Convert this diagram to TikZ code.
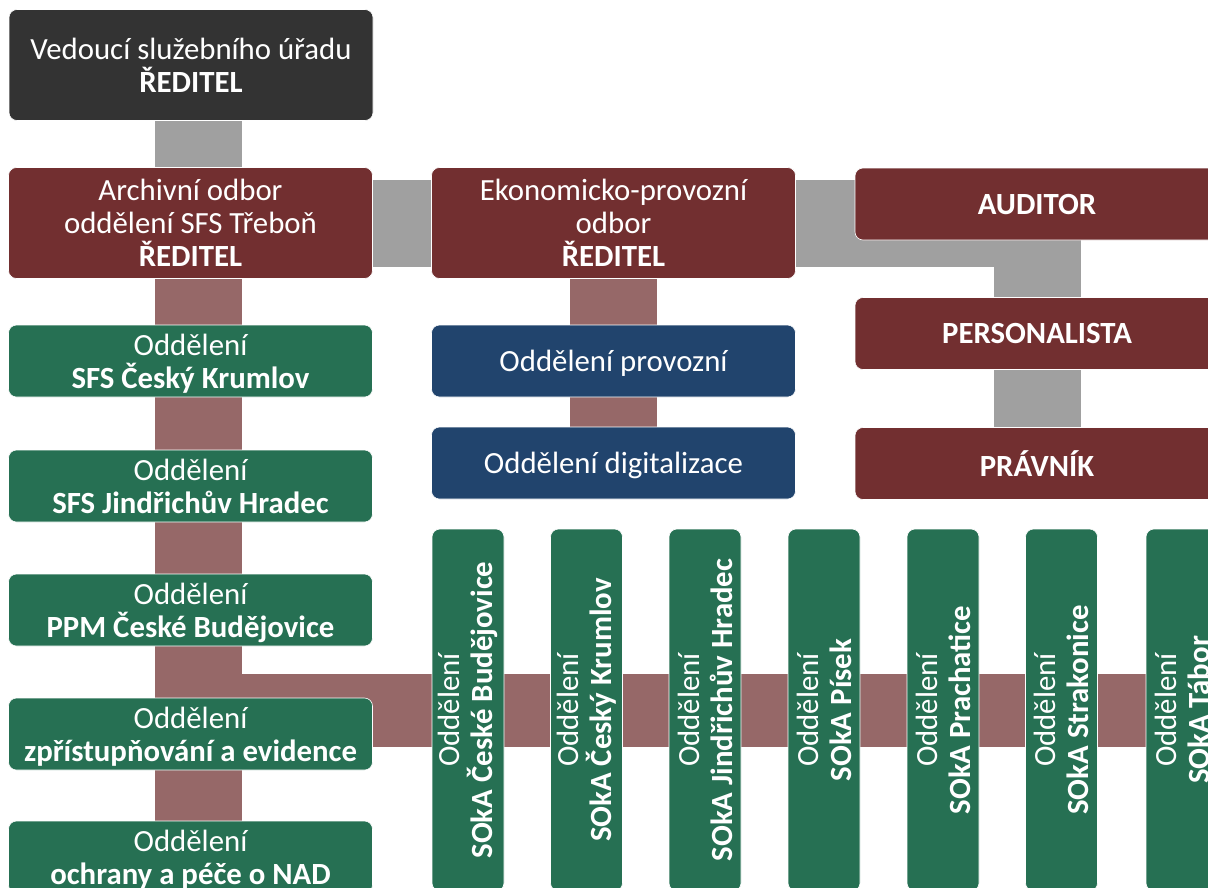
\documentclass[tikz,border=0pt]{standalone}
\usepackage{fontspec}
\setmainfont{Carlito}
\usepackage{tikz}
\usetikzlibrary{backgrounds}
\definecolor{darkbox}{HTML}{333333}
\definecolor{wine}{HTML}{722F30}
\definecolor{rose}{HTML}{966868}
\definecolor{linkgray}{HTML}{A0A0A0}
\definecolor{pine}{HTML}{267053}
\definecolor{navy}{HTML}{21446D}

\begin{document}
\begin{tikzpicture}[x=1pt, y=-1pt]
\useasboundingbox (0,0) rectangle (1208,887);
\tikzstyle{every node} = [rectangle, rounded corners=8pt, draw=white, line width=.6pt, text=white, align=center, inner sep=0pt, font=\fontsize{30.8}{33}\selectfont]
\tikzstyle{wide} = [minimum width=364pt, minimum height=72pt, text depth=0pt]
\tikzstyle{tall} = [wide, minimum height=111pt]
\tikzstyle{column} = [rotate=90, minimum width=362pt, minimum height=72pt, fill=pine]
\tikzstyle{graylink} = [line width=87pt, linkgray]
\tikzstyle{roselink} = [line width=87pt, rose]
% heads
\node[tall, fill=darkbox] (ved) at (191,65) {Vedoucí služebního úřadu\\\textbf{ŘEDITEL}};
\node[tall, fill=wine] (arch) at (190.5,223) {Archivní odbor\\oddělení SFS Třeboň\\\textbf{ŘEDITEL}};
\node[tall, fill=wine] (ekon) at (613.5,223) {Ekonomicko-provozní\\odbor\\\textbf{ŘEDITEL}};
\node[wide, fill=wine] (aud) at (1037,204) {\textbf{AUDITOR}};
\node[wide, fill=wine] (pers) at (1037,333.5) {\textbf{PERSONALISTA}};
\node[wide, fill=wine] (prav) at (1037,463.5) {\textbf{PRÁVNÍK}};
% economic departments
\node[wide, fill=navy] (prov) at (613.5,361) {Oddělení provozní};
\node[wide, fill=navy] (dig) at (613.5,463) {Oddělení digitalizace};
% archive departments
\node[wide, fill=pine] (sfsck) at (190.5,361) {Oddělení\\\textbf{SFS Český Krumlov}};
\node[wide, fill=pine] (sfsjh) at (190.5,486) {Oddělení\\\textbf{SFS Jindřichův Hradec}};
\node[wide, fill=pine] (ppm) at (190.5,610) {Oddělení\\\textbf{PPM České Budějovice}};
\node[wide, fill=pine] (zpr) at (190.5,734) {Oddělení\\\textbf{zpřístupňování a evidence}};
\node[wide, fill=pine] (nad) at (190.5,857) {Oddělení\\\textbf{ochrany a péče o NAD}};
% district archives
\node[column] (sokacb) at (468,710) {Oddělení\\\textbf{SOkA České Budějovice}};
\node[column] (sokack) at (586.5,710) {Oddělení\\\textbf{SOkA Český Krumlov}};
\node[column] (sokajh) at (705,710) {Oddělení\\\textbf{SOkA Jindřichův Hradec}};
\node[column] (sokapi) at (824,710) {Oddělení\\\textbf{SOkA Písek}};
\node[column] (sokapt) at (943,710) {Oddělení\\\textbf{SOkA Prachatice}};
\node[column] (sokast) at (1061.5,710) {Oddělení\\\textbf{SOkA Strakonice}};
\node[column] (sokata) at (1182,710) {Oddělení\\\textbf{SOkA Tábor}};
\coordinate (spine) at (198,0);
\coordinate (foot) at (198,900);
\coordinate (branch) at (198,710);
\coordinate (rim) at (1225,710);
\begin{scope}[on background layer]
\draw[graylink] (ved.south -| spine) -- (arch.north -| spine);
\draw[graylink] (arch) -- (ekon) -- (ekon -| aud) -- (prav);
\draw[roselink] (arch.south -| spine) -- (foot);
\draw[roselink, line width=73pt] (branch) -- (rim);
\draw[roselink] (ekon) -- (dig);
\end{scope}
\end{tikzpicture}
\end{document}
